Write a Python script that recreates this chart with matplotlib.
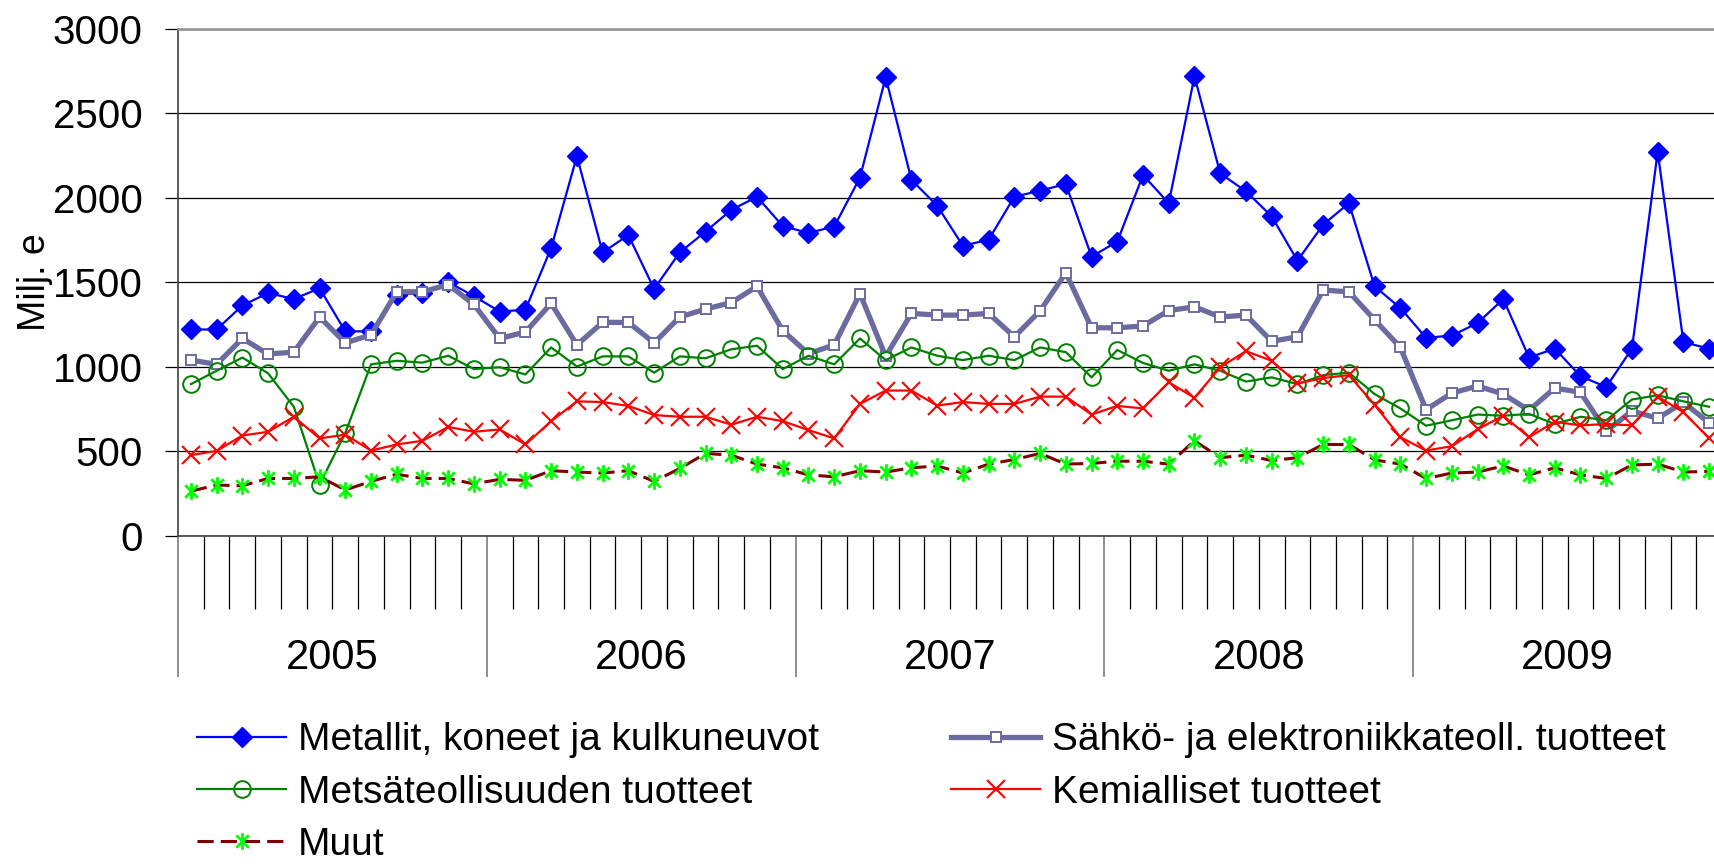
import matplotlib
matplotlib.use('Agg')
import matplotlib.pyplot as plt
from matplotlib.path import Path

plt.rcParams['font.family'] = ['Liberation Sans', 'DejaVu Sans']

# Monthly values Jan 2005 - Dec 2009, Milj. e
years = ['2005', '2006', '2007', '2008', '2009']

metallit = [1221, 1221, 1363, 1437, 1401, 1465, 1210, 1210, 1427, 1439, 1501, 1418,
            1327, 1338, 1703, 2246, 1677, 1779, 1461, 1677, 1800, 1928, 2006, 1832,
            1792, 1830, 2119, 2713, 2106, 1953, 1716, 1752, 2006, 2042, 2081, 1652,
            1741, 2134, 1968, 2718, 2144, 2038, 1890, 1628, 1841, 1968, 1476, 1348,
            1172, 1185, 1259, 1401, 1055, 1108, 945, 881, 1108, 2272, 1146, 1108]

sahko = [1040, 1015, 1168, 1076, 1087, 1295, 1142, 1189, 1444, 1444, 1486, 1369,
         1168, 1206, 1376, 1130, 1263, 1263, 1142, 1295, 1342, 1380, 1476, 1214,
         1078, 1130, 1433, 1062, 1316, 1306, 1306, 1316, 1178, 1331, 1556, 1231,
         1231, 1242, 1333, 1355, 1295, 1306, 1151, 1178, 1454, 1444, 1278, 1115,
         747, 845, 887, 839, 743, 875, 849, 620, 739, 696, 790, 669]

metsa = [898, 977, 1055, 962, 764, 304, 609, 1015, 1036, 1025, 1066, 987,
         998, 955, 1115, 1002, 1062, 1062, 966, 1062, 1051, 1104, 1125, 987,
         1066, 1015, 1168, 1040, 1115, 1066, 1040, 1066, 1040, 1115, 1087, 938,
         1100, 1023, 977, 1015, 977, 913, 938, 898, 951, 966, 839, 754,
         652, 684, 718, 711, 722, 662, 705, 684, 807, 832, 796, 764]

kemia = [478, 503, 594, 616, 705, 577, 599, 505, 541, 563, 645, 616,
         630, 541, 679, 796, 792, 769, 715, 705, 705, 658, 705, 679,
         626, 577, 781, 860, 860, 771, 792, 781, 781, 824, 824, 718,
         769, 754, 909, 817, 998, 1093, 1036, 902, 934, 951, 775, 584,
         505, 531, 631, 711, 584, 675, 654, 662, 654, 824, 732, 577]

muut = [265, 301, 297, 340, 340, 350, 272, 323, 365, 340, 340, 308,
        335, 329, 386, 378, 372, 386, 323, 399, 488, 478, 425, 403,
        361, 350, 386, 378, 403, 414, 372, 425, 452, 488, 425, 429,
        442, 442, 425, 563, 463, 478, 446, 463, 541, 541, 450, 425,
        340, 372, 378, 414, 361, 403, 361, 340, 420, 425, 378, 382]

labels = ['Metallit, koneet ja kulkuneuvot', 'Sähkö- ja elektroniikkateoll. tuotteet',
          'Metsäteollisuuden tuotteet', 'Kemialliset tuotteet', 'Muut']

x = list(range(len(metallit)))

# asterisk marker: vertical line + x
star = Path([(0, -1), (0, 1), (-0.75, -0.75), (0.75, 0.75), (-0.75, 0.75), (0.75, -0.75)],
            [Path.MOVETO, Path.LINETO] * 3)

fig = plt.figure(figsize=(17.15, 8.66), dpi=100)
ax = fig.add_axes([0.1038, 0.3811, 0.9003, 0.5858])

l1, = ax.plot(x, metallit, color='#0000FF', lw=1.6, marker='D', ms=10, label=labels[0])
l2, = ax.plot(x, sahko, color='#6B6BA0', lw=3.8, marker='s', ms=6.5, mfc='white', mew=1.4,
              label=labels[1])
l3, = ax.plot(x, metsa, color='#008000', lw=1.6, marker='o', ms=12, mfc='none', mew=1.4,
              label=labels[2])
l4, = ax.plot(x, kemia, color='#FF0000', lw=1.6, marker='x', ms=13, mew=1.5, label=labels[3])
l5, = ax.plot(x, muut, color='#800000', lw=2.2, dashes=(5.3, 2.3), marker=star, ms=12,
              mec='#00FF00', mew=2, label=labels[4])

ax.set_ylim(0, 3000)
ax.set_xlim(-0.5, len(x) - 0.5)
ax.set_yticks(range(0, 3001, 500))
ax.yaxis.grid(True, color='black', lw=0.9)
ax.set_axisbelow(True)
ax.tick_params(axis='y', labelsize=29, length=9.5, width=0.9, pad=16)

# year boundaries (long ticks) and month boundaries (short ticks)
year_bounds = [i * 12 - 0.5 for i in range(len(years) + 1)]
month_bounds = [i + 0.5 for i in range(len(x) - 1) if (i + 1) % 12 != 0]
ax.set_xticks(year_bounds)
ax.set_xticklabels([])
ax.set_xticks(month_bounds, minor=True)
ax.tick_params(axis='x', which='major', length=101.5, width=1.1, color='#707070')
ax.tick_params(axis='x', which='minor', length=52.5, width=0.9, color='black')

for i, yr in enumerate(years):
    ax.text(i * 12 + 5.5, -0.263, yr, transform=ax.get_xaxis_transform(),
            ha='center', va='baseline', fontsize=30)

for side in ['top', 'right']:
    ax.spines[side].set_color('#909090')
    ax.spines[side].set_linewidth(1.8)
ax.spines['left'].set_color('#404040')
ax.spines['left'].set_linewidth(1.2)
ax.spines['bottom'].set_color('#404040')
ax.spines['bottom'].set_linewidth(1.2)

ax.set_ylabel('Milj. e', fontsize=27)
ax.yaxis.set_label_coords(-0.081, 0.5)

# legend filled column-wise, so order handles to read row by row
handles = [l1, l3, l5, l2, l4]
fig.legend(handles=handles, labels=[h.get_label() for h in handles],
           loc='upper left', bbox_to_anchor=(0.1149, 0.166), ncol=2, frameon=False,
           fontsize=28, handlelength=2.29, handletextpad=0.3, columnspacing=3.4,
           labelspacing=0.42, borderpad=0, borderaxespad=0)

fig.savefig('out.png', dpi=100)
